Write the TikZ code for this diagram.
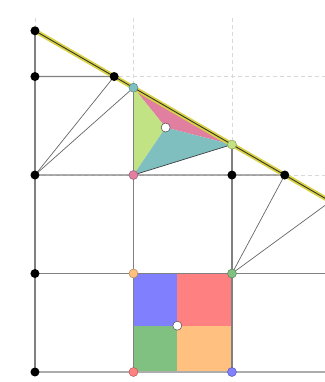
\documentclass[tikz,border=0pt]{standalone}
\definecolor{pinkreg}{HTML}{E07FA0}
\definecolor{limereg}{HTML}{C2E384}
\definecolor{tealreg}{HTML}{7FBFBF}
\definecolor{bluereg}{HTML}{8080FF}
\definecolor{redreg}{HTML}{FF8080}
\definecolor{greenreg}{HTML}{80C080}
\definecolor{orangereg}{HTML}{FFC080}
\definecolor{hilite}{HTML}{D8D244}
\tikzset{
    faint/.style = {draw = gray!30, line width = 0.8pt, dash pattern = on 4pt off 3pt},
    gridline/.style = {draw = black!50, line width = 1.1pt},
    floorline/.style = {draw = black!32, line width = 1.8pt},
    thinline/.style = {draw = black!60, line width = 0.7pt},
    dot/.style = {circle, inner sep = 0pt, minimum size = 9pt, line width = 0.5pt}
}
\begin{document}
\begin{tikzpicture}[scale=3.462]
            \useasboundingbox (-0.355,-0.1015) rectangle (2.944,3.777);
            \clip (-0.355,-0.1015) rectangle (2.944,3.777);
            % points of the construction
            \coordinate (top) at (0,{2*sqrt(3)});
            \coordinate (cutA) at ({6-3*sqrt(3)},3);
            \coordinate (cutB) at (1,{5/sqrt(3)});
            \coordinate (cutC) at (2,{4/sqrt(3)});
            \coordinate (cutD) at ({6-2*sqrt(3)},2);
            \coordinate (cutE) at (3,{sqrt(3)});
            \coordinate (far) at (6,0);
            \coordinate (corner) at (1,2);
            \coordinate (mid) at (1.327,2.482);
            \coordinate (sqA) at (1,0);
            \coordinate (sqB) at (2,0);
            \coordinate (sqC) at (2,1);
            \coordinate (sqD) at (1,1);
            \coordinate (sqmid) at (1.445,0.47);
            % dashed grid
            \draw[faint] (0,0) -- (0,3.624);
            \draw[faint] (1,0) -- (1,3.624);
            \draw[faint] (2,0) -- (2,3.624);
            \draw[faint] (3,0) -- (3,3.624);
            \draw[faint] (0,3) -- (3,3);
            \draw[faint] (0,2) -- (3,2);
            % triangle split at mid
            \filldraw[
                fill = pinkreg,
                draw = none
            ]
            (cutB) -- (cutC) -- (mid) --cycle;
            \filldraw[
                fill = limereg,
                draw = none
            ]
            (cutB) -- (mid) -- (corner) --cycle;
            \filldraw[
                fill = tealreg,
                draw = none
            ]
            (mid) -- (cutC) -- (corner) --cycle;
            \draw[thinline, draw = black!75] (cutB) -- (cutC) -- (corner) -- cycle;
            % square split at sqmid
            \fill[bluereg] (sqD) rectangle (sqmid);
            \fill[redreg] (sqmid) rectangle (sqC);
            \fill[greenreg] (sqA) rectangle (sqmid);
            \fill[orangereg] (sqmid) rectangle (sqB);
            % solid grid
            \draw[floorline] (0,0) -- (3,0);
            \draw[gridline] (0,0) -- (top);
            \draw[gridline] (sqA) -- (cutB);
            \draw[gridline] (sqB) -- (cutC);
            \draw[gridline] (0,1) -- (3,1);
            \draw[gridline] (0,2) -- (cutD);
            \draw[gridline] (0,3) -- (cutA);
            % fans
            \draw[thinline] (0,2) -- (cutA);
            \draw[thinline] (0,2) -- (cutB);
            \draw[thinline] (sqC) -- (cutD);
            \draw[thinline] (sqC) -- (cutE);
            % highlighted line
            \draw[hilite, line width = 4.5pt] (top) -- (far);
            \draw[black!80, line width = 0.9pt] (top) -- (far);
            % dots
            \node[dot, fill = black] (n1) at (top) {};
            \node[dot, fill = black] (n2) at (0,3) {};
            \node[dot, fill = black] (n3) at (cutA) {};
            \node[dot, fill = black] (n4) at (0,2) {};
            \node[dot, fill = black] (n5) at (0,1) {};
            \node[dot, fill = black] (n6) at (0,0) {};
            \node[dot, fill = black] (n7) at (2,2) {};
            \node[dot, fill = black] (n8) at (cutD) {};
            \node[dot, fill = tealreg, draw = tealreg!70!black] (tB) at (cutB) {};
            \node[dot, fill = limereg, draw = limereg!70!black] (tC) at (cutC) {};
            \node[dot, fill = pinkreg, draw = pinkreg!70!black] (tP) at (corner) {};
            \node[dot, fill = white, draw = black!70] (tM) at (mid) {};
            \node[dot, fill = redreg, draw = redreg!70!black] (qA) at (sqA) {};
            \node[dot, fill = bluereg, draw = bluereg!70!black] (qB) at (sqB) {};
            \node[dot, fill = greenreg, draw = greenreg!70!black] (qC) at (sqC) {};
            \node[dot, fill = orangereg, draw = orangereg!70!black] (qD) at (sqD) {};
            \node[dot, fill = white, draw = black!70] (qM) at (sqmid) {};
        \end{tikzpicture}
\end{document}
